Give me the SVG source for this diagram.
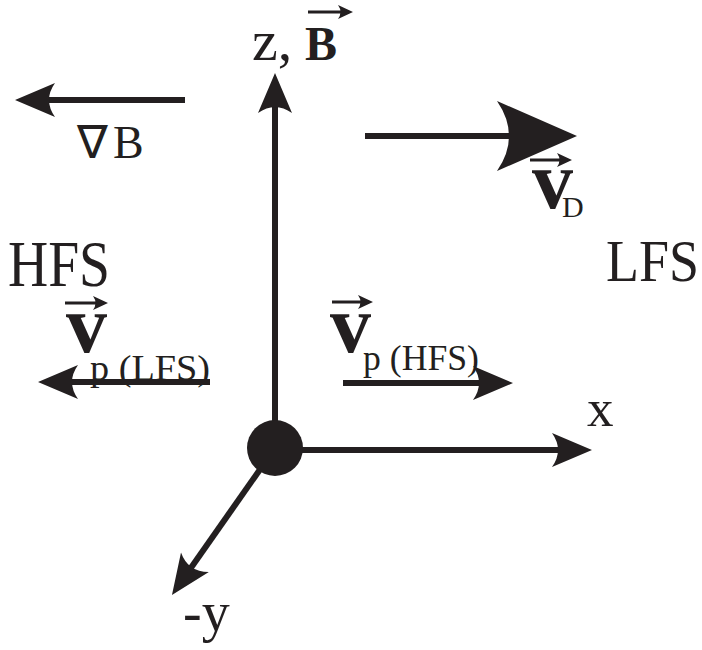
<svg xmlns="http://www.w3.org/2000/svg" width="702" height="650" viewBox="0 0 702 650">
<style>
text{font-family:"Liberation Serif","Times New Roman",Tinos,Times,serif;fill:#231f20}
.b{font-weight:bold}
.ax{stroke:#231f20;stroke-width:6;fill:none}
.vec{stroke:#231f20;stroke-width:3;fill:none}
</style>
<defs>
<marker id="ah" markerUnits="userSpaceOnUse" orient="auto" markerWidth="60" markerHeight="60" viewBox="-40 -30 60 60" refX="0" refY="0" overflow="visible">
<path d="M10,0 L-30,-17 Q-18,0 -30,17 Z" fill="#231f20"/>
</marker>
<marker id="ahBig" markerUnits="userSpaceOnUse" orient="auto" markerWidth="120" markerHeight="120" viewBox="-80 -60 120 120" refX="0" refY="0" overflow="visible">
<path d="M20,0 L-60,-35 Q-36,0 -60,35 Z" fill="#231f20"/>
</marker>
<marker id="sm" markerUnits="userSpaceOnUse" orient="auto" markerWidth="30" markerHeight="30" viewBox="-15 -15 30 30" refX="0" refY="0" overflow="visible">
<path d="M4,0 L-11,-7 Q-6,0 -11,7 Z" fill="#231f20"/>
</marker>
</defs>
<g id="connectors">
<line class="ax" x1="275" y1="448" x2="275" y2="83" marker-end="url(#ah)"/>
<line class="ax" x1="275" y1="450" x2="582" y2="450" marker-end="url(#ah)"/>
<line class="ax" x1="275" y1="448" x2="177.7" y2="586.8" marker-end="url(#ah)"/>
<line class="ax" x1="185" y1="100" x2="25" y2="100" marker-end="url(#ah)"/>
<line class="ax" x1="365" y1="136" x2="557" y2="136" stroke-width="12" marker-end="url(#ahBig)"/>
<line class="ax" x1="210" y1="382" x2="48" y2="382" marker-end="url(#ah)"/>
<line class="ax" x1="343" y1="383" x2="503" y2="383" marker-end="url(#ah)"/>
</g>
<g id="origin"><circle cx="275" cy="448" r="28" fill="#231f20"/></g>
<g id="label-z">
<text x="252" y="60" font-size="58" font-family="Liberation Serif">z,</text>
<text x="305" y="60" font-size="48" class="b">B</text>
<line class="vec" x1="308" y1="12" x2="349" y2="12" marker-end="url(#sm)"/>
</g>
<g id="label-gradB">
<text y="158" font-size="46"><tspan x="77">∇</tspan><tspan x="113">B</tspan></text>
</g>
<g id="label-vD">
<line class="vec" x1="530" y1="160" x2="568" y2="160" marker-end="url(#sm)"/>
<text x="532" y="208" font-size="82" class="b">v</text>
<text x="562" y="217" font-size="30">D</text>
</g>
<g id="label-HFS"><text x="8" y="286" font-size="66" textLength="102" lengthAdjust="spacingAndGlyphs">HFS</text></g>
<g id="label-LFS"><text x="606" y="281" font-size="60" textLength="93" lengthAdjust="spacingAndGlyphs">LFS</text></g>
<g id="label-vpLFS">
<line class="vec" x1="65" y1="303" x2="104" y2="303" marker-end="url(#sm)"/>
<text x="66" y="352" font-size="82" class="b">v</text>
<text x="90" y="380" font-size="36" textLength="120" lengthAdjust="spacingAndGlyphs">p (LFS)</text>
</g>
<g id="label-vpHFS">
<line class="vec" x1="332" y1="302" x2="369" y2="302" marker-end="url(#sm)"/>
<text x="330" y="352" font-size="82" class="b">v</text>
<text x="363" y="370" font-size="36" textLength="116" lengthAdjust="spacingAndGlyphs">p (HFS)</text>
</g>
<g id="label-x"><text x="587" y="426" font-size="53">x</text></g>
<g id="label-y"><text x="183" y="631" font-size="56">-y</text></g>
</svg>
